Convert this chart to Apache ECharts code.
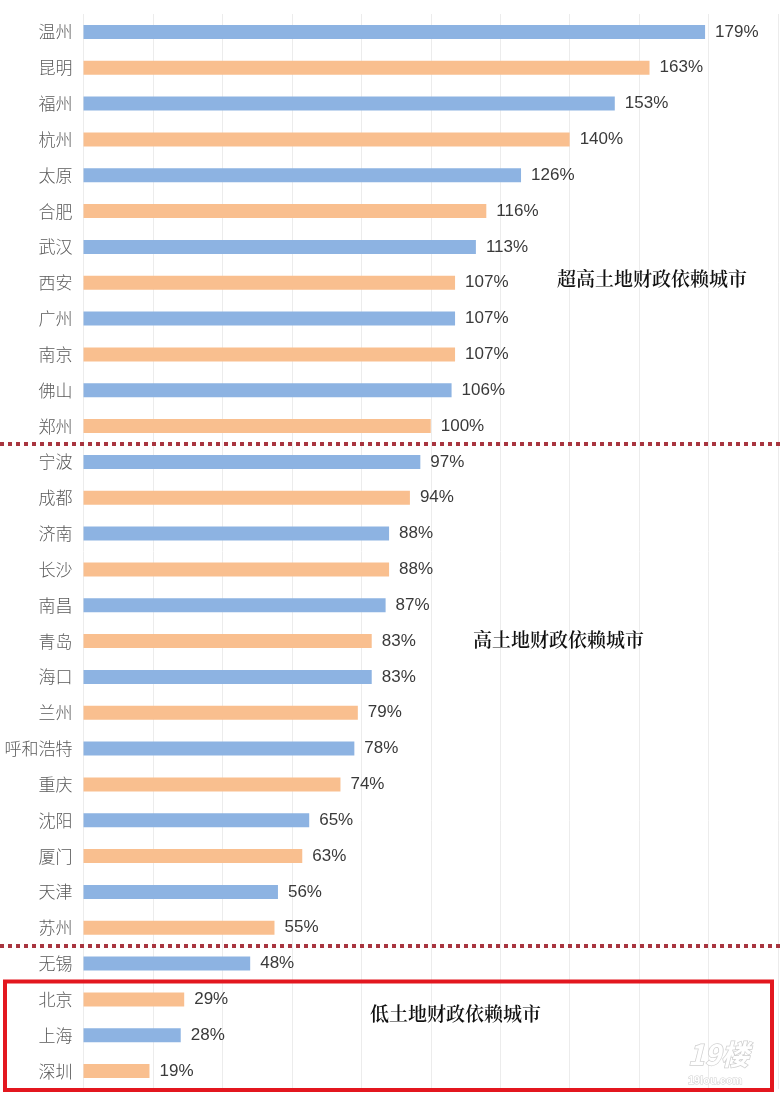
<!DOCTYPE html>
<html><head><meta charset="utf-8">
<script src="https://cdn.jsdelivr.net/npm/echarts@6/dist/echarts.min.js"></script>
<style>html,body{margin:0;padding:0;background:#fff}#c{width:780px;height:1099px}</style>
</head><body><div id="c"></div>
<script>
const cities = ['温州','昆明','福州','杭州','太原','合肥','武汉','西安','广州','南京','佛山','郑州','宁波','成都','济南','长沙','南昌','青岛','海口','兰州','呼和浩特','重庆','沈阳','厦门','天津','苏州','无锡','北京','上海','深圳'];
const values = [179,163,153,140,126,116,113,107,107,107,106,100,97,94,88,88,87,83,83,79,78,74,65,63,56,55,48,29,28,19];
const groupLabels = ['超高土地财政依赖城市','高土地财政依赖城市','低土地财政依赖城市'];
const separatorsAfter = ['郑州','苏州'];
const boxStart = '北京';

const BLUE = '#8DB3E2', ORANGE = '#F9BF8F';
const chart = echarts.init(document.getElementById('c'));
chart.setOption({
  animation:false,
  grid:{left:83.5,right:2,top:14,bottom:10,containLabel:false},
  xAxis:{type:'value',min:0,max:200,interval:20,axisLabel:{show:false},axisLine:{show:false},axisTick:{show:false},
    splitLine:{lineStyle:{color:'#ececec',width:1}}},
  yAxis:{type:'category',data:cities,inverse:true,axisLine:{show:false},axisTick:{show:false},
    axisLabel:{color:'#5a5a5a',fontSize:17,margin:11,fontFamily:'Noto Sans CJK SC',fontWeight:300}},
  series:[{type:'bar',barWidth:14,
    data:values.map((v,i)=>({value:v,itemStyle:{color:i%2===0?BLUE:ORANGE}})),
    label:{show:true,position:'right',distance:10,formatter:p=>p.value+'%',color:'#3a3a3a',fontSize:17,fontFamily:'Liberation Sans'}}]
});

function build(){
  const g=[];
  const yOf = name => chart.convertToPixel({yAxisIndex:0}, name);
  const step = yOf(cities[1]) - yOf(cities[0]);
  separatorsAfter.forEach(n=>{
    const y = Math.round(yOf(n)+step/2);
    g.push({type:'line',shape:{x1:0,y1:y,x2:780,y2:y},style:{stroke:'#A8353F',lineWidth:4,lineDash:[4,4]},z:10});
  });
  const bTop = yOf(boxStart)-step/2;
  const bBot = yOf(cities[cities.length-1])+step/2;
  g.push({type:'rect',shape:{x:5,y:bTop,width:767,height:bBot-bTop+1},style:{fill:'none',stroke:'#E3171F',lineWidth:4},z:10});
  const tstyle = {fill:'#111',font:'600 19px "Noto Serif CJK SC","Noto Sans CJK SC",serif',textVerticalAlign:'middle'};
  g.push({type:'text',x:557,y:yOf('西安')-4,style:Object.assign({text:groupLabels[0]},tstyle),z:11});
  g.push({type:'text',x:473,y:yOf('青岛')-1,style:Object.assign({text:groupLabels[1]},tstyle),z:11});
  g.push({type:'text',x:370,y:(yOf('北京')+yOf('上海'))/2-4,style:Object.assign({text:groupLabels[2]},tstyle),z:11});
  g.push({type:'text',x:688,y:1040,style:{text:'19楼',fill:'#fff',font:'bold italic 28px "Noto Sans CJK SC"',stroke:'#cfcfcf',lineWidth:1.5},z:11});
  g.push({type:'text',x:688,y:1075,style:{text:'19lou.com',fill:'#fff',font:'bold 11px "Liberation Sans"',stroke:'#cfcfcf',lineWidth:1},z:11});
  chart.setOption({graphic:g});
}
build();
</script></body></html>
